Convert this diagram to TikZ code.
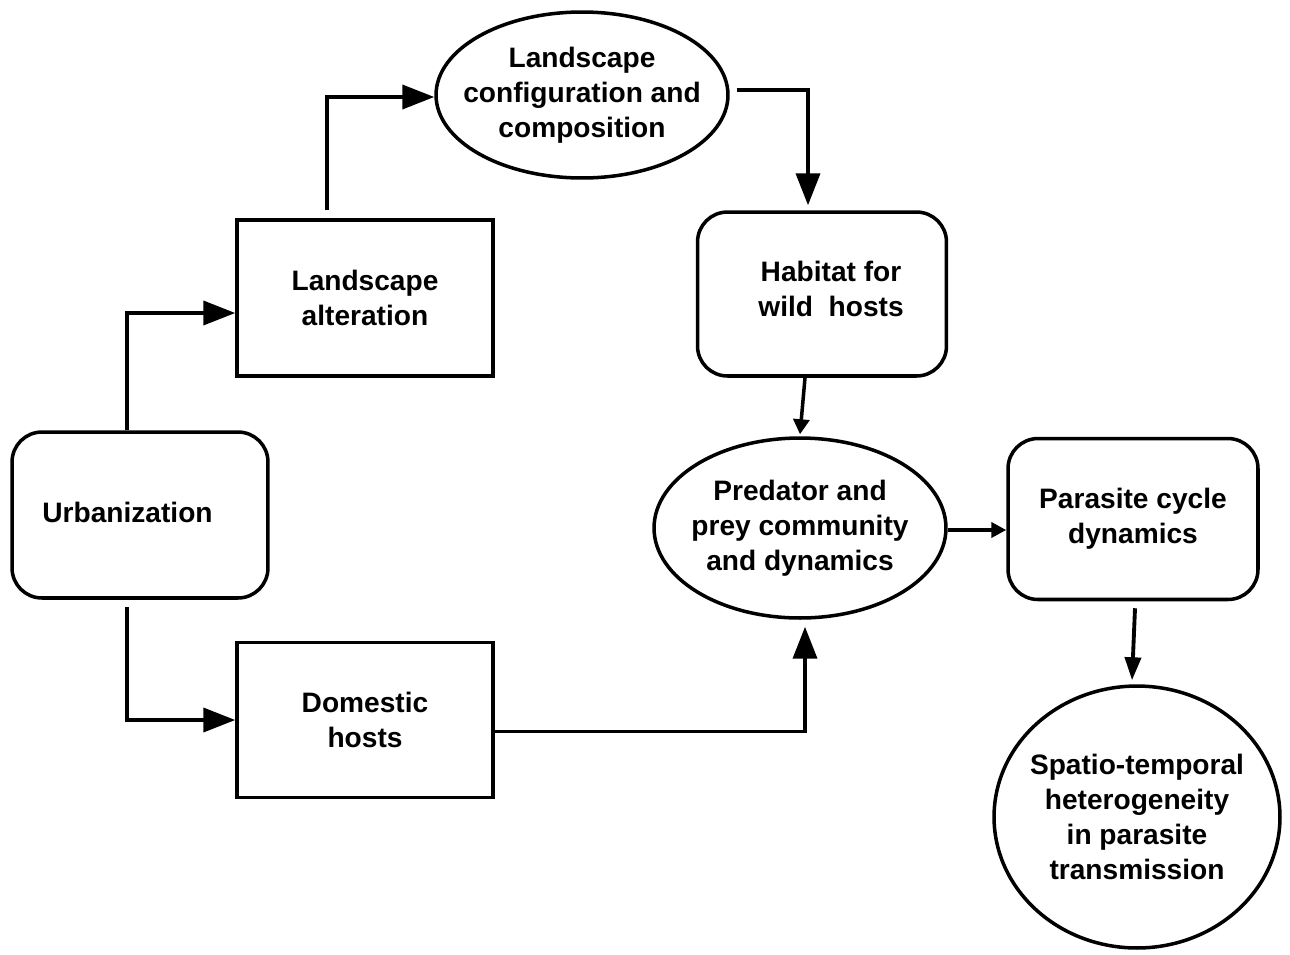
\documentclass[tikz,border=0pt]{standalone}
\usepackage{fontspec}
\setmainfont{Liberation Sans}
\usetikzlibrary{positioning,shapes.geometric,arrows.meta}

\tikzset{
  sqbox/.style={draw,line width=2pt,minimum width=5.12cm,minimum height=3.12cm,
    inner sep=0pt,align=center},
  rbox/.style={sqbox,rounded corners=0.6cm},
  oval/.style={ellipse,draw,line width=2pt,inner sep=0pt},
  flow/.style={line width=2.2pt,-{Triangle[length=0.64cm,width=0.48cm]}},
  flowsmall/.style={line width=2pt,-{Triangle[length=0.3cm,width=0.32cm]}},
}

\begin{document}
\begin{tikzpicture}[x=0.02cm,y=-0.02cm,font=\fontsize{16}{19.9}\bfseries\selectfont]
  \useasboundingbox (0,0) rectangle (1290,954);

  % nodes
  \node[rbox,minimum height=3.32cm,
    label={[xshift=-0.25cm,yshift=0.06cm]center:Urbanization}] (urb) at (140,515) {};
  \node[sqbox] (alt) at (365,298) {Landscape\\alteration};
  \node[sqbox,minimum height=3.1cm] (dom) at (365,720) {Domestic\\hosts};
  \node[oval,minimum width=5.84cm,minimum height=3.32cm,
    label={[align=center]center:{Landscape\\configuration and\\composition}}]
    (conf) at (582,95) {};
  \node[rbox,minimum width=4.98cm,minimum height=3.28cm,
    label={[align=center,xshift=0.18cm,yshift=0.1cm]center:{Habitat for\\wild~ hosts}}]
    (hab) at (822,294) {};
  \node[oval,minimum width=5.84cm,minimum height=3.6cm,
    label={[align=center]center:{Predator and\\prey community\\and dynamics}}]
    (pred) at (800,528) {};
  \node[rbox,minimum width=5cm,minimum height=3.22cm] (par)
    at (1133,519) {Parasite cycle\\dynamics};
  \node[oval,minimum width=5.72cm,minimum height=5.24cm,
    label={[align=center]center:{Spatio-temporal\\heterogeneity\\in parasite\\transmission}}]
    (spt) at (1137,817) {};

  % arrows
  \draw[flow] ([xshift=-0.26cm]urb.north) |- ([yshift=-0.3cm]alt.west);
  \draw[flow] ([xshift=-0.26cm,yshift=-0.14cm]urb.south) |- (dom.west);
  \draw[flow] ([xshift=-0.76cm,yshift=0.16cm]alt.north) |- ([yshift=-0.04cm]conf.west);
  \draw[flow] ([xshift=0.14cm,yshift=0.1cm]conf.east) -| ([xshift=-0.28cm,yshift=0.1cm]hab.north);
  \draw[flowsmall] ([xshift=-0.34cm]hab.south) -- ([yshift=0.04cm]pred.north);
  \draw[flow] ([yshift=-0.23cm]dom.east) -| ([xshift=0.1cm,yshift=-0.14cm]pred.south);
  \draw[line width=2.2pt,-{Triangle[length=0.3cm,width=0.3cm]}]
    ([yshift=-0.04cm]pred.east) -- ([yshift=-0.04cm]pred.east -| par.west);
  \draw[line width=2.2pt,-{Triangle[length=0.46cm,width=0.32cm]}]
    ([xshift=0.04cm,yshift=-0.14cm]par.south) -- ([xshift=-0.1cm,yshift=0.08cm]spt.north);
\end{tikzpicture}
\end{document}
